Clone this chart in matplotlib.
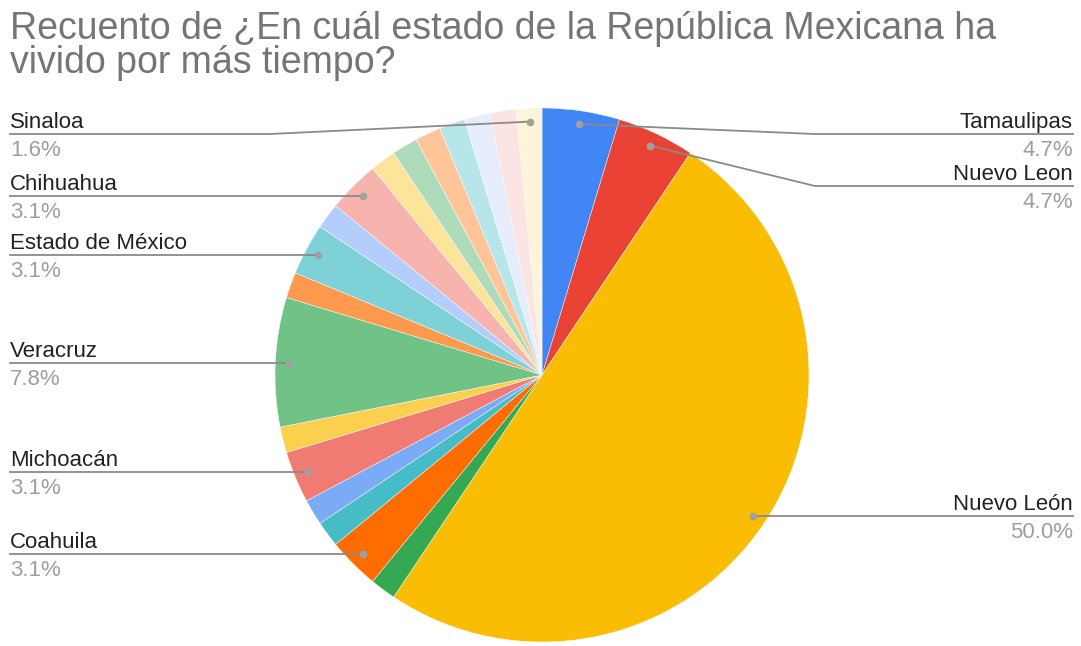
import numpy as np
import matplotlib.pyplot as plt

plt.rcParams['font.family'] = ['Liberation Sans', 'DejaVu Sans']

# respuestas por estado (64 en total), en el orden del gráfico
estados = ['Tamaulipas', 'Nuevo Leon', 'Nuevo León', '', 'Coahuila', '', '',
           'Michoacán', '', 'Veracruz', '', 'Estado de México', '', 'Chihuahua',
           '', '', '', '', '', '', 'Sinaloa']
conteos = [3, 3, 32, 1, 2, 1, 1, 2, 1, 5, 1, 2, 1, 2, 1, 1, 1, 1, 1, 1, 1]
colores = ['#4285F4', '#EA4335', '#FBBC04', '#34A853', '#FF6D01', '#46BDC6',
           '#7BAAF7', '#F07B72', '#FCD04F', '#71C287', '#FF994D', '#7ED1D7',
           '#B3CEFB', '#F7B4AE', '#FDE49B', '#AEDCBA', '#FFC599', '#B6E6EA',
           '#E6EEFD', '#FBE4E2', '#FEF4DA']

titulo = ['Recuento de ¿En cuál estado de la República Mexicana ha',
          'vivido por más tiempo?']

# altura de la línea guía cuando no puede ir a la altura del punto
guia_y = {'Sinaloa': 134, 'Tamaulipas': 134, 'Nuevo Leon': 186}

W, H = 1081, 646
cx, cy, R = 542, 375, 267

fig = plt.figure(figsize=(W / 100, H / 100), dpi=100)
ax = fig.add_axes([0, 0, 1, 1])

# con el eje y invertido, el sentido antihorario de los datos se ve horario
ax.pie(conteos, colors=colores, startangle=-90, counterclock=True,
       center=(cx, cy), radius=R, frame=True,
       wedgeprops=dict(edgecolor='white', linewidth=0.3))
ax.set_xlim(0, W)
ax.set_ylim(H, 0)
ax.set_aspect('equal')
ax.axis('off')

total = sum(conteos)
acum = np.cumsum([0] + conteos)
for i, nombre in enumerate(estados):
    if not nombre:
        continue
    medio = (acum[i] + conteos[i] / 2) / total * 2 * np.pi
    px = cx + 0.95 * R * np.sin(medio)
    py = cy - 0.95 * R * np.cos(medio)
    ly = guia_y.get(nombre, py)
    pct = f'{conteos[i] / total * 100:.1f}%'
    if px > cx:
        xs = [px, 815 if ly != py else px, 1073]
        ha, tx = 'right', 1073
    else:
        xs = [px, 270 if ly != py else px, 10]
        ha, tx = 'left', 10
    ax.plot(xs, [py, ly, ly], color='#8a8a8a', lw=1.3, zorder=3)
    ax.plot(px, py, 'o', ms=5.5, color='#a0a0a0', mec='none', zorder=4)
    ax.text(tx, ly - 6, nombre, ha=ha, va='baseline', fontsize=16, color='#222222')
    ax.text(tx, ly + 22, pct, ha=ha, va='baseline', fontsize=16, color='#9e9e9e')

for k, linea in enumerate(titulo):
    ax.text(10, 39 + 34 * k, linea, ha='left', va='baseline',
            fontsize=27, color='#757575')

fig.savefig('out.png', dpi=100, facecolor='white')
